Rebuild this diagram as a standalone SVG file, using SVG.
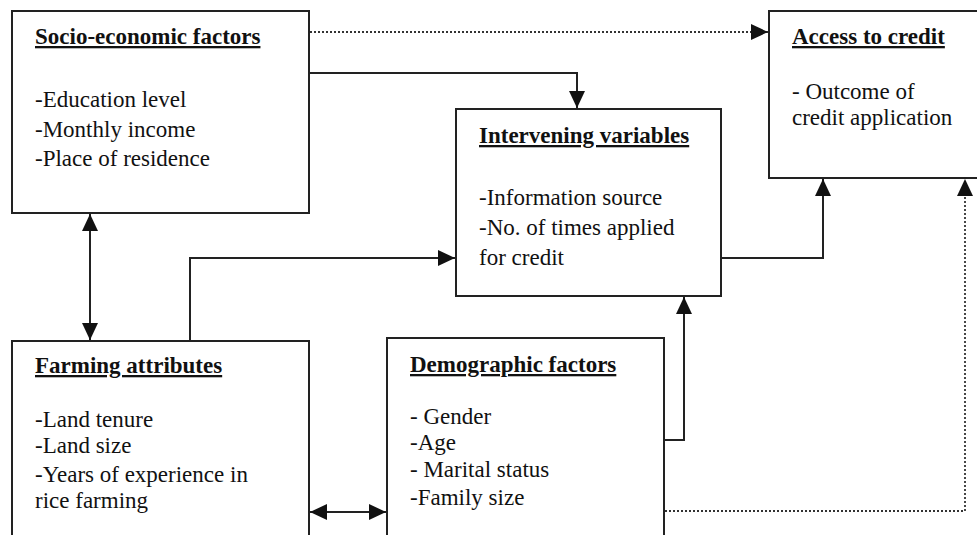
<svg xmlns="http://www.w3.org/2000/svg" width="977" height="535" viewBox="0 0 977 535">
<style>
.box{fill:#fff;stroke:#222;stroke-width:2}
.t{font-family:"Liberation Serif","Times New Roman",serif;font-size:23px;fill:#111}
.h{font-weight:bold;text-decoration:underline}
.c{fill:none;stroke:#222;stroke-width:2}
.d{fill:none;stroke:#333;stroke-width:1.8;stroke-dasharray:2 2}
</style>
<defs>
<marker id="a" viewBox="0 0 17 16" refX="17" refY="8" markerWidth="17" markerHeight="16" markerUnits="userSpaceOnUse" orient="auto-start-reverse">
<path d="M0,0 L17,8 L0,16 Z" fill="#111"/>
</marker>
</defs>
<rect width="977" height="535" fill="#fff"/>
<g id="socio">
<rect class="box" x="12" y="11" width="297" height="202"/>
<text class="t h" x="35" y="44">Socio-economic factors</text>
<text class="t" x="35" y="107">-Education level</text>
<text class="t" x="35" y="137">-Monthly income</text>
<text class="t" x="35" y="166">-Place of residence</text>
</g>
<g id="access">
<rect class="box" x="769" y="11" width="230" height="167"/>
<text class="t h" x="792" y="44">Access to credit</text>
<text class="t" x="792" y="99">- Outcome of</text>
<text class="t" x="792" y="125">credit application</text>
</g>
<g id="intervening">
<rect class="box" x="456" y="109" width="265" height="187"/>
<text class="t h" x="479" y="143">Intervening variables</text>
<text class="t" x="479" y="205">-Information source</text>
<text class="t" x="479" y="235">-No. of times applied</text>
<text class="t" x="479" y="265">for credit</text>
</g>
<g id="farming">
<rect class="box" x="12" y="341" width="297" height="210"/>
<text class="t h" x="35" y="373">Farming attributes</text>
<text class="t" x="35" y="427">-Land tenure</text>
<text class="t" x="35" y="453">-Land size</text>
<text class="t" x="35" y="482">-Years of experience in</text>
<text class="t" x="35" y="508">rice farming</text>
</g>
<g id="demographic">
<rect class="box" x="387" y="338" width="277" height="213"/>
<text class="t h" x="410" y="372">Demographic factors</text>
<text class="t" x="410" y="424">- Gender</text>
<text class="t" x="410" y="450">-Age</text>
<text class="t" x="410" y="477">- Marital status</text>
<text class="t" x="410" y="505">-Family size</text>
</g>
<g id="connectors">
<path class="d" d="M310,32 H768" marker-end="url(#a)"/>
<path class="c" d="M310,73 H577 V108" marker-end="url(#a)"/>
<path class="c" d="M90,214 V340" marker-start="url(#a)" marker-end="url(#a)"/>
<path class="c" d="M190,340 V258 H455" marker-end="url(#a)"/>
<path class="c" d="M722,258 H823 V179" marker-end="url(#a)"/>
<path class="c" d="M665,440 H684 V297" marker-end="url(#a)"/>
<path class="c" d="M310,512 H386" marker-start="url(#a)" marker-end="url(#a)"/>
<path class="d" d="M665,511 H965 V179" marker-end="url(#a)"/>
</g>
</svg>
